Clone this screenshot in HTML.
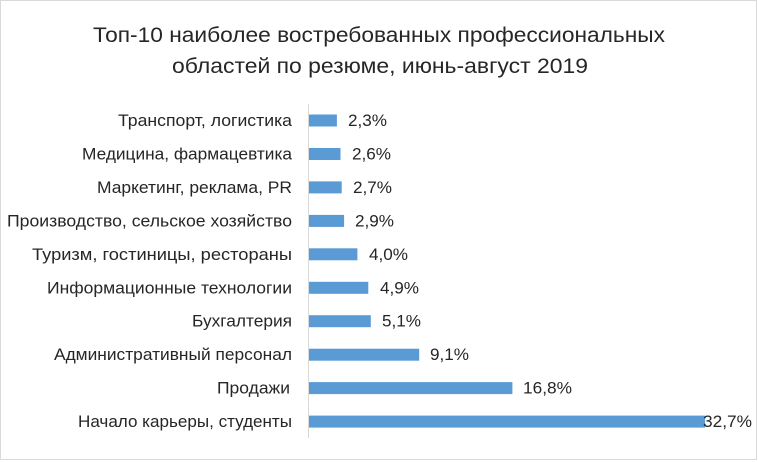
<!DOCTYPE html>
<html><head><meta charset="utf-8"><style>
body{margin:0;background:#fff}
svg{display:block}
text{font-family:"Liberation Sans",sans-serif;fill:#262626}
</style></head><body>
<svg width="758" height="462" viewBox="0 0 758 462">
<rect x="0.5" y="0.5" width="756" height="459" fill="#fff" stroke="#d9d9d9"/>
<text x="93" y="42" font-size="21" textLength="572" lengthAdjust="spacingAndGlyphs">Топ-10 наиболее востребованных профессиональных</text>
<text x="172" y="73" font-size="21" textLength="416" lengthAdjust="spacingAndGlyphs">областей по резюме, июнь-август 2019</text>
<line x1="308.5" y1="104" x2="308.5" y2="438" stroke="#d9d9d9"/>
<g fill="#5b9bd5">
<rect x="309" y="114.5" width="27.9" height="12"/>
<rect x="309" y="148" width="31.5" height="12"/>
<rect x="309" y="181.4" width="32.7" height="12"/>
<rect x="309" y="214.9" width="35.1" height="12"/>
<rect x="309" y="248.3" width="48.4" height="12"/>
<rect x="309" y="281.8" width="59.3" height="12"/>
<rect x="309" y="315.2" width="61.8" height="12"/>
<rect x="309" y="348.7" width="110.2" height="12"/>
<rect x="309" y="382.1" width="203.4" height="12"/>
<rect x="309" y="415.6" width="396" height="12"/>
</g>
<g font-size="16.5">
<text x="118" y="126" textLength="174" lengthAdjust="spacingAndGlyphs">Транспорт, логистика</text>
<text x="82" y="159.5" textLength="210" lengthAdjust="spacingAndGlyphs">Медицина, фармацевтика</text>
<text x="97" y="193" textLength="195" lengthAdjust="spacingAndGlyphs">Маркетинг, реклама, PR</text>
<text x="7" y="226.4" textLength="285" lengthAdjust="spacingAndGlyphs">Производство, сельское хозяйство</text>
<text x="32" y="259.8" textLength="260" lengthAdjust="spacingAndGlyphs">Туризм, гостиницы, рестораны</text>
<text x="47" y="293.3" textLength="245" lengthAdjust="spacingAndGlyphs">Информационные технологии</text>
<text x="192" y="326.7" textLength="100" lengthAdjust="spacingAndGlyphs">Бухгалтерия</text>
<text x="54" y="360.2" textLength="238" lengthAdjust="spacingAndGlyphs">Административный персонал</text>
<text x="217" y="393.6" textLength="73" lengthAdjust="spacingAndGlyphs">Продажи</text>
<text x="78" y="427.1" textLength="214" lengthAdjust="spacingAndGlyphs">Начало карьеры, студенты</text>

<text x="348" y="126" textLength="39" lengthAdjust="spacingAndGlyphs">2,3%</text>
<text x="352" y="159.5" textLength="39" lengthAdjust="spacingAndGlyphs">2,6%</text>
<text x="353" y="193" textLength="39" lengthAdjust="spacingAndGlyphs">2,7%</text>
<text x="355" y="226.4" textLength="39" lengthAdjust="spacingAndGlyphs">2,9%</text>
<text x="369" y="259.8" textLength="39" lengthAdjust="spacingAndGlyphs">4,0%</text>
<text x="380" y="293.3" textLength="39" lengthAdjust="spacingAndGlyphs">4,9%</text>
<text x="382" y="326.7" textLength="39" lengthAdjust="spacingAndGlyphs">5,1%</text>
<text x="430" y="360.2" textLength="39" lengthAdjust="spacingAndGlyphs">9,1%</text>
<text x="523" y="393.6" textLength="49" lengthAdjust="spacingAndGlyphs">16,8%</text>
<text x="703" y="427.1" textLength="49" lengthAdjust="spacingAndGlyphs">32,7%</text>
</g>
</svg>
</body></html>
